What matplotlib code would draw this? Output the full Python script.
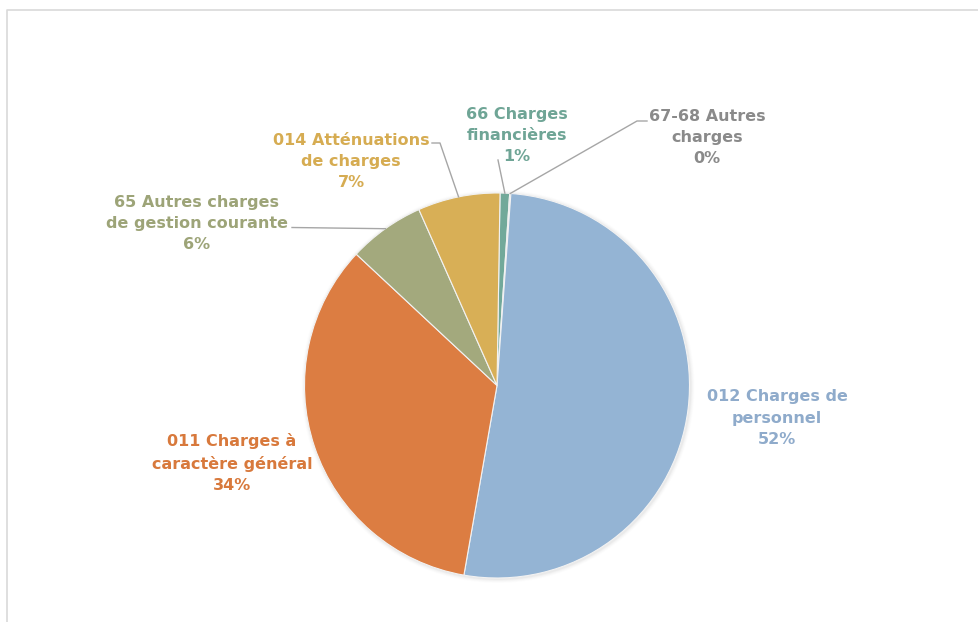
import numpy as np
import matplotlib
matplotlib.use("Agg")
import matplotlib.pyplot as plt
from matplotlib.patches import Circle

# ---- data (clockwise from the top) ----
categories = ["66 Charges\nfinancières", "67-68 Autres\ncharges", "012 Charges de\npersonnel",
              "011 Charges à\ncaractère général", "65 Autres charges\nde gestion courante",
              "014 Atténuations\nde charges"]
values = [0.8, 0.1, 51.6, 34.2, 6.4, 6.9]
pct_labels = ["1%", "0%", "52%", "34%", "6%", "7%"]
colors = ["#72A99A", "#8F8B8D", "#94B4D4", "#DC7D42", "#A3A97D", "#D8AF56"]
text_colors = ["#6FA596", "#8A8A8A", "#8FABCB", "#D8793C", "#9DA478", "#D6AC52"]

W, H = 979, 622
fig = plt.figure(figsize=(W / 100, H / 100), dpi=100)
ax = fig.add_axes([0, 0, 1, 1])

def py(y):
    return H - y

cx, cy, r = 497, py(385.5), 192.5

# soft shadow halo
for i, a in enumerate([0.06, 0.045, 0.03, 0.02]):
    ax.add_patch(Circle((cx + 1, cy - 1), r + 1 + i, color="#808080", alpha=a, lw=0, zorder=0))

start_cw_from_top = 0.9
wedges, _ = ax.pie(values, colors=colors, startangle=90 - start_cw_from_top, counterclock=False,
                   center=(cx, cy), radius=r,
                   wedgeprops=dict(edgecolor="#F2F2F2", linewidth=0.8))
for w in wedges:
    w.set_zorder(2)

ax.set_xlim(0, W)
ax.set_ylim(0, H)
ax.set_aspect("equal")
ax.axis("off")

# border of chart area
ax.plot([7.5, 7.5, W + 5], [py(H + 5), py(9.5), py(9.5)], color="#D9D9D9", lw=1.2, zorder=1)

def edge_point(w):
    mid = np.deg2rad((w.theta1 + w.theta2) / 2)
    return cx + r * np.cos(mid), cy + r * np.sin(mid)

# label positions (text centres) in pixel coords
label_pos = [(517, 135), (707, 137), (777, 418), (232, 463), (197, 223), (351, 161)]
for i, (lab, p) in enumerate(zip(categories, pct_labels)):
    x, y = label_pos[i]
    ax.text(x, py(y), lab + "\n" + p, ha="center", va="center", fontsize=11.5,
            fontweight="bold", color=text_colors[i], linespacing=1.5,
            family="DejaVu Sans", zorder=5)

# leader lines
lc = "#A6A6A6"
ex, ey = edge_point(wedges[4])
ax.plot([292, ex], [py(227.5), ey], color=lc, lw=1, zorder=3)
ex, ey = edge_point(wedges[5])
ax.plot([432, 440, ex], [py(143), py(143), ey], color=lc, lw=1, zorder=3)
ex, ey = edge_point(wedges[0])
ax.plot([498, ex], [py(160), ey], color=lc, lw=1, zorder=3)
ex, ey = edge_point(wedges[1])
ax.plot([647, 637, ex], [py(121), py(121), ey], color=lc, lw=1, zorder=3)

fig.savefig("out.png", dpi=100, facecolor="white")
